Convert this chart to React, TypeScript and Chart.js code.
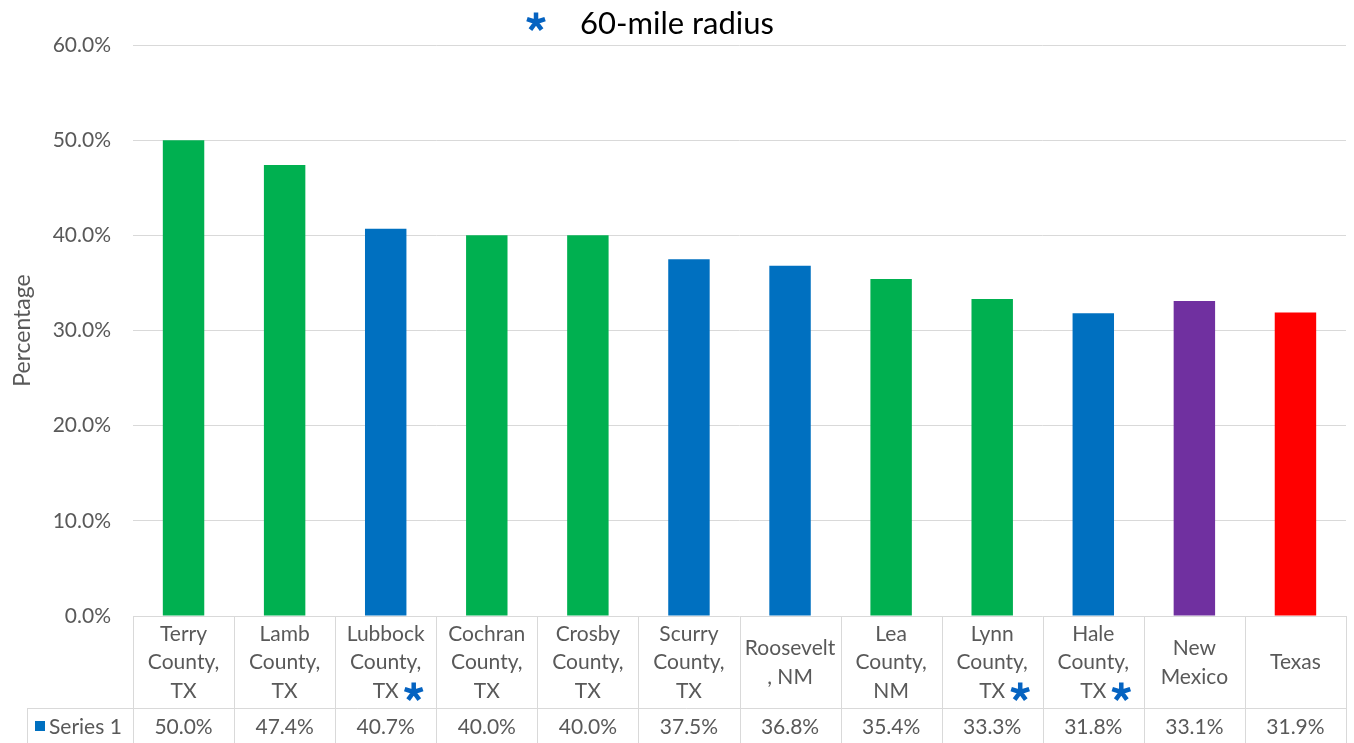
import React, { useEffect, useRef } from "react";
import { Chart, registerables } from "chart.js";

Chart.register(...registerables);

const categories: string[][] = [
  ["Terry", "County,", "TX"],
  ["Lamb", "County,", "TX"],
  ["Lubbock", "County,", "TX"],
  ["Cochran", "County,", "TX"],
  ["Crosby", "County,", "TX"],
  ["Scurry", "County,", "TX"],
  ["Roosevelt", ", NM"],
  ["Lea", "County,", "NM"],
  ["Lynn", "County,", "TX"],
  ["Hale", "County,", "TX"],
  ["New", "Mexico"],
  ["Texas"],
];
const values: number[] = [50.0, 47.4, 40.7, 40.0, 40.0, 37.5, 36.8, 35.4, 33.3, 31.8, 33.1, 31.9];
const barColors: string[] = [
  "#00B050", "#00B050", "#0070C0", "#00B050", "#00B050", "#0070C0",
  "#0070C0", "#00B050", "#00B050", "#0070C0", "#7030A0", "#FF0000",
];
const radiusFlags: boolean[] = [false, false, true, false, false, false, false, false, true, true, false, false];
const yTicks: number[] = [0, 10, 20, 30, 40, 50, 60];
const seriesName = "Series 1";
const titleText = "60-mile radius";
const yAxisTitle = "Percentage";

const FONT = "Lato, 'Open Sans', sans-serif";
const TEXT = "#595959";
const GRID = "#D9D9D9";
const STAR = "#0563C1";

function drawStar(ctx: CanvasRenderingContext2D, cx: number, cy: number, r: number) {
  ctx.save();
  ctx.strokeStyle = STAR;
  ctx.lineWidth = 4.5;
  ctx.lineCap = "butt";
  ctx.beginPath();
  for (let k = 0; k < 5; k++) {
    const a = -Math.PI / 2 + (k * 2 * Math.PI) / 5;
    ctx.moveTo(cx, cy);
    ctx.lineTo(cx + r * Math.cos(a), cy + r * Math.sin(a));
  }
  ctx.stroke();
  ctx.restore();
}

const tablePlugin = {
  id: "tablePlugin",
  afterDraw(chart: any) {
    const ctx: CanvasRenderingContext2D = chart.ctx;
    const area = chart.chartArea;
    const xs = chart.scales.x;
    const H = chart.height;
    const W = chart.width;
    const n = categories.length;
    const step = (area.right - area.left) / n;
    const rowY = 708;

    ctx.save();
    // title
    ctx.fillStyle = "#000000";
    ctx.font = `31px ${FONT}`;
    ctx.textAlign = "center";
    ctx.textBaseline = "middle";
    const tw = ctx.measureText(titleText).width;
    const tx = W / 2;
    ctx.fillText(titleText, tx, 24);
    drawStar(ctx, tx - tw / 2 - 44, 22, 9.5);

    // table lines
    ctx.strokeStyle = GRID;
    ctx.lineWidth = 1;
    ctx.beginPath();
    for (let i = 0; i <= n; i++) {
      const bx = Math.round(area.left + i * step) + 0.5;
      ctx.moveTo(bx, area.bottom);
      ctx.lineTo(bx, H);
    }
    ctx.moveTo(27.5, rowY + 0.5);
    ctx.lineTo(area.right, rowY + 0.5);
    ctx.moveTo(27.5, rowY);
    ctx.lineTo(27.5, H);
    ctx.stroke();

    // values row
    ctx.fillStyle = TEXT;
    ctx.font = `21px ${FONT}`;
    ctx.textAlign = "center";
    ctx.textBaseline = "middle";
    for (let i = 0; i < n; i++) {
      const cx = xs.getPixelForValue(i);
      ctx.fillText(values[i].toFixed(1) + "%", cx, 727);
      if (radiusFlags[i]) {
        drawStar(ctx, cx + 28, 692, 9.5);
      }
    }
    // legend key
    ctx.fillStyle = "#0070C0";
    ctx.fillRect(35, 721, 10, 10);
    ctx.fillStyle = TEXT;
    ctx.textAlign = "left";
    ctx.fillText(seriesName, 49, 727);
    ctx.restore();
  },
};

export default function App() {
  const ref = useRef<HTMLCanvasElement | null>(null);
  useEffect(() => {
    document.body.style.margin = "0";
    if (!ref.current) return;
    const chart = new Chart(ref.current, {
      type: "bar",
      data: {
        labels: categories,
        datasets: [
          {
            label: seriesName,
            data: values,
            backgroundColor: barColors,
            borderWidth: 0,
            categoryPercentage: 1,
            barPercentage: 0.41,
          },
        ],
      },
      options: {
        animation: false,
        responsive: false,
        maintainAspectRatio: false,
        layout: { padding: { top: 45, right: 8, left: 0, bottom: 0 } },
        plugins: {
          legend: { display: false },
          title: { display: false },
          tooltip: { enabled: false },
        },
        scales: {
          x: {
            grid: { display: false },
            border: { display: false },
            ticks: {
              color: TEXT,
              font: { family: FONT, size: 21, lineHeight: 28.5 / 21 },
              padding: 10,
              crossAlign: "center",
              maxRotation: 0,
              autoSkip: false,
            },
            afterFit: (s: any) => {
              s.height = 127;
            },
          },
          y: {
            min: 0,
            max: 60,
            afterBuildTicks: (s: any) => {
              s.ticks = yTicks.map((v) => ({ value: v }));
            },
            grid: { color: GRID, drawTicks: false, lineWidth: 1 },
            border: { display: false },
            ticks: {
              color: TEXT,
              padding: 22,
              font: { family: FONT, size: 21 },
              callback: (v: any) => Number(v).toFixed(1) + "%",
            },
            title: {
              display: true,
              text: yAxisTitle,
              color: TEXT,
              font: { family: FONT, size: 23 },
              padding: { top: 9, bottom: 0 },
            },
            afterFit: (s: any) => {
              s.width = 133;
            },
          },
        },
      },
      plugins: [tablePlugin],
    });
    return () => chart.destroy();
  }, []);
  return (
    <div style={{ width: 1354, height: 743, background: "#fff" }}>
      <canvas ref={ref} width={1354} height={743} style={{ display: "block" }} />
    </div>
  );
}
